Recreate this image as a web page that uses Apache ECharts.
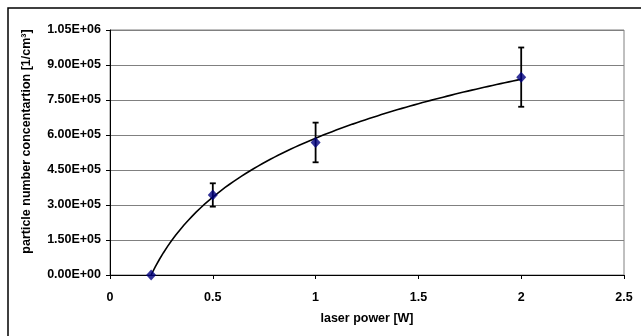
<!DOCTYPE html>
<html><head><meta charset="utf-8">
<script src="https://cdn.jsdelivr.net/npm/echarts@6/dist/echarts.min.js"></script>
<style>html,body{margin:0;padding:0;background:#fff}#c{width:641px;height:336px}</style>
</head><body><div id="c"></div>
<script>
const laserPower = [0.2, 0.5, 1, 2];
const concentration = [0, 343000, 568000, 848000];
const errorPlusMinus = [0, 50000, 85000, 127000];
const xTicks = [0, 0.5, 1, 1.5, 2, 2.5];
const yTicks = [0, 150000, 300000, 450000, 600000, 750000, 900000, 1050000];

// logarithmic trendline (least squares y = a ln x + b), as in the source spreadsheet
const lx = laserPower.map(Math.log);
const mx = lx.reduce((s,v)=>s+v,0)/lx.length;
const my = concentration.reduce((s,v)=>s+v,0)/concentration.length;
let sxy=0, sxx=0;
lx.forEach((v,i)=>{sxy+=(v-mx)*(concentration[i]-my); sxx+=(v-mx)*(v-mx);});
const a = sxy/sxx, b = my - a*mx;
const trend = [];
for (let k=0;k<=90;k++){ const x = 0.2 + (2-0.2)*k/90; trend.push([x, a*Math.log(x)+b]); }

function sci(v){
  if (v===0) return '0.00E+00';
  let e = Math.floor(Math.log10(Math.abs(v)));
  let m = v/Math.pow(10,e);
  if (Math.round(m*100)/100>=10){m/=10;e+=1;}
  const es = (e<0?'-':'+') + String(Math.abs(e)).padStart(2,'0');
  return m.toFixed(2)+'E'+es;
}

const chart = echarts.init(document.getElementById('c'));
const font = 'Liberation Sans, Arial, sans-serif';
const fs = 12.5;
chart.setOption({
  animation:false,
  graphic:[{type:'rect',shape:{x:8,y:8,width:700,height:400},style:{fill:null,stroke:'#000',lineWidth:1.5},silent:true,z:-1}],
  grid:{left:110,right:17,top:30,bottom:61,show:true,borderColor:'#808080',borderWidth:1},
  xAxis:{type:'value',min:0,max:2.5,interval:0.5,
    name:'laser power [W]',nameLocation:'middle',nameGap:37,
    nameTextStyle:{fontFamily:font,fontWeight:'bold',fontSize:fs,color:'#000'},
    axisLine:{show:true,onZero:false,lineStyle:{color:'#000',width:1}},
    axisTick:{show:true,length:4,lineStyle:{color:'#000'}},
    axisLabel:{fontFamily:font,fontWeight:'bold',fontSize:fs,color:'#000',margin:16},
    splitLine:{show:false}},
  yAxis:{type:'value',min:0,max:1050000,interval:150000,
    name:'particle number concentartion [1/cm³]',nameLocation:'middle',nameGap:77,
    nameTextStyle:{fontFamily:font,fontWeight:'bold',fontSize:fs,color:'#000',padding:[0,0,0,22]},
    axisLine:{show:true,lineStyle:{color:'#000',width:1}},
    axisTick:{show:true,length:4,lineStyle:{color:'#000'}},
    axisLabel:{fontFamily:font,fontWeight:'bold',fontSize:fs,color:'#000',margin:9,formatter:sci},
    splitLine:{show:true,lineStyle:{color:'#808080',width:1}}},
  series:[
    {type:'line',data:trend,showSymbol:false,symbol:'none',lineStyle:{color:'#000',width:1.6},z:2,silent:true},
    {type:'custom',z:3,silent:true,
      data:laserPower.map((x,i)=>[x,concentration[i]-errorPlusMinus[i],concentration[i]+errorPlusMinus[i]]),
      renderItem:function(params,api){
        if (api.value(2)-api.value(1)<=0) return null;
        const lo=api.coord([api.value(0),api.value(1)]);
        const hi=api.coord([api.value(0),api.value(2)]);
        const w=3;
        const st={stroke:'#000',lineWidth:1.8};
        return {type:'group',children:[
          {type:'line',shape:{x1:lo[0],y1:lo[1],x2:hi[0],y2:hi[1]},style:st},
          {type:'line',shape:{x1:lo[0]-w,y1:lo[1],x2:lo[0]+w,y2:lo[1]},style:st},
          {type:'line',shape:{x1:hi[0]-w,y1:hi[1],x2:hi[0]+w,y2:hi[1]},style:st}
        ]};
      }},
    {type:'scatter',z:4,data:laserPower.map((x,i)=>[x,concentration[i]]),symbol:'diamond',symbolSize:[10,11],
      itemStyle:{color:'#000080'}}
  ]
});
</script></body></html>
